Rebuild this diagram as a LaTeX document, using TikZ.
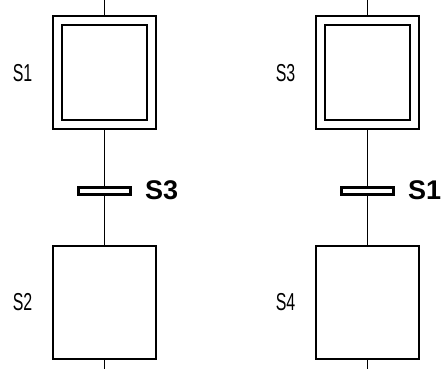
\documentclass[tikz,border=0pt]{standalone}
\usepackage{fontspec}
\setmainfont{Liberation Sans}
\newfontfamily\steplabelfont[FakeStretch=0.65]{Liberation Sans}
\usetikzlibrary{positioning}

\begin{document}
\begin{tikzpicture}[
    x=1pt, y=-1pt,
    stepbox/.style={rectangle, draw, line width=2pt, minimum width=103pt, minimum height=113pt, inner sep=0pt},
    initbox/.style={rectangle, draw, line width=2pt, double, double distance=7pt, outer sep=5.5pt, minimum width=94pt, minimum height=104pt, inner sep=0pt},
    trans/.style={rectangle, draw, line width=2.6pt, minimum width=52pt, minimum height=7pt, inner sep=0pt},
    steplabel/.style={font=\steplabelfont\fontsize{24.5}{24.5}\selectfont, inner sep=0pt},
    condlabel/.style={font=\bfseries\fontsize{27}{27}\selectfont, inner sep=0pt, anchor=west},
    link/.style={line width=1pt}
]
\useasboundingbox (0,0) rectangle (442,369);

% left chart
\coordinate (in1) at (104.5,0);
\node[initbox] (s1) at (104.5,72.5) {};
\node[trans] (t1) at (104.5,191) {};
\node[stepbox] (s2) at (104.5,302.5) {};
\coordinate (out1) at (104.5,369);
\node[steplabel] (l1) at (22.5,73.5) {S1};
\node[steplabel] (l2) at (22.5,302) {S2};
\node[condlabel] (c1) at (145,190.5) {S3};

\draw[link] (in1) -- (s1.north);
\draw[link] (s1.south) -- (t1.north);
\draw[link] (t1.south) -- (s2.north);
\draw[link] (s2.south) -- (out1);

% right chart
\coordinate (in2) at (367.5,0);
\node[initbox] (s3) at (367.5,72.5) {};
\node[trans] (t2) at (367.5,191) {};
\node[stepbox] (s4) at (367.5,302.5) {};
\coordinate (out2) at (367.5,369);
\node[steplabel] (l3) at (285.5,73.5) {S3};
\node[steplabel] (l4) at (285.5,302) {S4};
\node[condlabel] (c2) at (408,190.5) {S1};

\draw[link] (in2) -- (s3.north);
\draw[link] (s3.south) -- (t2.north);
\draw[link] (t2.south) -- (s4.north);
\draw[link] (s4.south) -- (out2);

\end{tikzpicture}
\end{document}
